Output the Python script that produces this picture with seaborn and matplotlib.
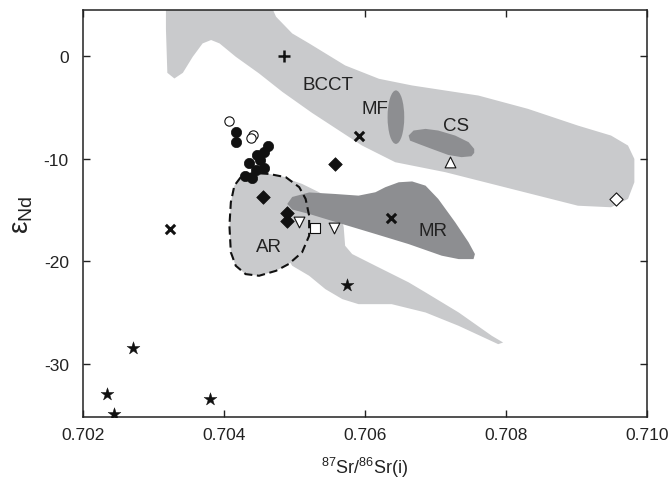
import numpy as np
import pandas as pd
import seaborn as sns
import matplotlib.pyplot as plt
import matplotlib.patches as patches

sns.set_style("ticks")
plt.rcParams['font.family'] = ['Liberation Sans', 'DejaVu Sans']
plt.rcParams['mathtext.fontset'] = 'custom'
plt.rcParams['mathtext.rm'] = 'Liberation Sans'
plt.rcParams['mathtext.it'] = 'Liberation Sans:italic'
plt.rcParams['axes.unicode_minus'] = False

LIGHT = '#c9cacc'
DARK = '#8d8e91'

# --- field outlines (87Sr/86Sr, eNd) ---
bcct_sr = [0.70318, 0.70460, 0.70474, 0.70497, 0.70521, 0.70572, 0.70620, 0.70667,
           0.70761, 0.70831, 0.70902, 0.70949, 0.70973, 0.70982, 0.70982, 0.70973,
           0.70949, 0.70902, 0.70808, 0.70714, 0.70643, 0.70596, 0.70525, 0.70483,
           0.70450, 0.70417, 0.70394, 0.70382, 0.70370, 0.70356, 0.70342, 0.70330,
           0.70320, 0.70318]
bcct_nd = [6.0, 6.0, 3.80, 2.17, 1.20, -0.94, -2.24, -2.89,
           -3.87, -5.16, -6.79, -7.76, -8.73, -10.03, -12.30, -13.92,
           -14.73, -14.58, -12.95, -11.32, -10.35, -8.73, -5.55, -3.51,
           -1.72, -0.10, 1.20, 1.53, 1.20, -0.10, -1.66, -2.21,
           -1.66, 2.6]

branch_sr = [0.70460, 0.70488, 0.70511, 0.70535, 0.70563, 0.70570, 0.70572, 0.70582,
             0.70615, 0.70662, 0.70686, 0.70733, 0.70780, 0.70796, 0.70789, 0.70733,
             0.70686, 0.70638, 0.70591, 0.70568, 0.70544, 0.70521, 0.70497, 0.70464]
branch_nd = [-11.49, -11.91, -12.46, -13.27, -14.41, -16.68, -18.47, -19.28,
             -20.42, -22.03, -23.01, -24.96, -27.23, -27.88, -28.04, -26.26,
             -24.96, -24.15, -24.15, -23.66, -22.69, -21.39, -20.42, -16.85]

ar_sr = [0.70424, 0.70415, 0.70410, 0.70408, 0.70410, 0.70417, 0.70431, 0.70450,
         0.70474, 0.70492, 0.70511, 0.70521, 0.70521, 0.70516, 0.70507, 0.70488,
         0.70464, 0.70441]
ar_nd = [-11.81, -12.63, -14.25, -16.52, -19.11, -20.42, -21.23, -21.39,
         -20.91, -20.25, -19.11, -17.50, -15.55, -13.92, -12.78, -11.81,
         -11.49, -11.39]

mr_sr = [0.70490, 0.70497, 0.70521, 0.70558, 0.70591, 0.70615, 0.70629, 0.70648,
         0.70667, 0.70686, 0.70704, 0.70728, 0.70747, 0.70756, 0.70754, 0.70733,
         0.70709, 0.70662, 0.70615, 0.70568, 0.70521, 0.70497]
mr_nd = [-14.41, -13.73, -13.29, -13.44, -13.60, -13.27, -12.78, -12.30,
         -12.22, -12.63, -13.92, -16.19, -18.14, -19.28, -19.77, -19.77,
         -19.44, -18.31, -17.33, -16.36, -15.38, -14.95]

cs_sr = [0.70662, 0.70669, 0.70686, 0.70704, 0.70728, 0.70747, 0.70755, 0.70755,
         0.70751, 0.70737, 0.70718, 0.70695, 0.70676, 0.70664]
cs_nd = [-7.76, -7.27, -7.11, -7.27, -7.76, -8.40, -9.06, -9.44,
         -9.77, -9.86, -9.64, -9.06, -8.57, -8.25]

mf_center = (0.70644, -5.97)
mf_size = (0.000236, 5.2)

# --- samples ---
circ_sr = [0.70417, 0.70418, 0.70462, 0.70457, 0.70447, 0.70451, 0.70436, 0.70457,
           0.70446, 0.70430, 0.70440]
circ_nd = [-7.43, -8.34, -8.81, -9.38, -9.69, -10.10, -10.42, -10.91,
           -11.12, -11.70, -11.93]
ocirc_sr = [0.70407, 0.70441, 0.70438]
ocirc_nd = [-6.30, -7.66, -7.98]
dia_sr = [0.70558, 0.70455, 0.70490, 0.70490]
dia_nd = [-10.52, -13.76, -15.29, -16.04]
odia_sr = [0.70956]
odia_nd = [-13.95]
tri_sr = [0.70721]
tri_nd = [-10.29]
dtri_sr = [0.70507, 0.70556]
dtri_nd = [-16.19, -16.78]
sq_sr = [0.70530]
sq_nd = [-16.75]
cross_sr = [0.70591, 0.70324, 0.70637]
cross_nd = [-7.82, -16.85, -15.77]
plus_sr = [0.70485]
plus_nd = [0.0]
star_sr = [0.70574, 0.70272, 0.70234, 0.70244, 0.70380]
star_nd = [-22.30, -28.37, -32.91, -34.86, -33.33]

labels = ['BCCT', 'MF', 'CS', 'MR', 'AR']
label_sr = [0.70548, 0.70614, 0.70729, 0.70696, 0.70464]
label_nd = [-2.8, -5.1, -6.8, -17.0, -18.5]

fig = plt.figure(figsize=(6.69, 4.89), dpi=100)
ax = fig.add_axes([0.1236, 0.1446, 0.8436, 0.8319])

ax.fill(bcct_sr, bcct_nd, color=LIGHT, lw=0, zorder=1)
ax.fill(branch_sr, branch_nd, color=LIGHT, lw=0, zorder=1)
ax.fill(ar_sr, ar_nd, color=LIGHT, lw=0, zorder=1)
ax.fill(mr_sr, mr_nd, color=DARK, lw=0, zorder=2)
ax.fill(cs_sr, cs_nd, color=DARK, lw=0, zorder=2)
ax.add_patch(patches.Ellipse(mf_center, mf_size[0], mf_size[1], color=DARK, lw=0, zorder=2))
ax.fill(ar_sr, ar_nd, facecolor='none', edgecolor='#111111', lw=1.5,
        linestyle=(0, (4, 2.2)), zorder=3)

for t, x, y in zip(labels, label_sr, label_nd):
    ax.text(x, y, t, fontsize=13.5, color='#222222', ha='center', va='center', zorder=4)


def pts(sr, nd, **kw):
    sns.scatterplot(x=sr, y=nd, ax=ax, zorder=5, legend=False, **kw)


pts(circ_sr, circ_nd, marker='o', s=55, color='#111111', edgecolor='#111111', linewidth=0.5)
pts(ocirc_sr, ocirc_nd, marker='o', s=45, facecolor='white', edgecolor='#111111', linewidth=0.8)
pts(dia_sr, dia_nd, marker='D', s=48, color='#111111', edgecolor='#111111', linewidth=0.5)
pts(odia_sr, odia_nd, marker='D', s=45, facecolor='white', edgecolor='#111111', linewidth=0.8)
pts(tri_sr, tri_nd, marker='^', s=60, facecolor='white', edgecolor='#111111', linewidth=0.8)
pts(dtri_sr, dtri_nd, marker='v', s=60, facecolor='white', edgecolor='#111111', linewidth=0.8)
pts(sq_sr, sq_nd, marker='s', s=48, facecolor='white', edgecolor='#111111', linewidth=0.8)
pts(cross_sr, cross_nd, marker='x', s=45, color='#111111', linewidth=2.2)
pts(plus_sr, plus_nd, marker='+', s=70, color='#111111', linewidth=1.8)
pts(star_sr, star_nd, marker='*', s=95, color='#111111', edgecolor='#111111', linewidth=0.3)

ax.set_xlim(0.702, 0.710)
ax.set_ylim(-35.15, 4.4)
ax.set_xticks([0.702, 0.704, 0.706, 0.708, 0.710])
ax.set_xticklabels(['0.702', '0.704', '0.706', '0.708', '0.710'])
ax.set_yticks([0, -10, -20, -30])
ax.set_yticklabels(['0', '-10', '-20', '-30'])
ax.tick_params(direction='in', length=5, width=1, top=True, right=True,
               labelsize=12.5, colors='#222222')
ax.tick_params(axis='y', pad=10)
ax.tick_params(axis='x', pad=7)
for sp in ax.spines.values():
    sp.set_linewidth(1.1)
    sp.set_color('#222222')

ax.set_xlabel(r'$^{87}$Sr/$^{86}$Sr(i)', fontsize=13, color='#222222', labelpad=9)
ax.set_ylabel(r'$\mathregular{ε_{Nd}}$', fontsize=20, color='#222222', labelpad=6)

fig.savefig('out.png', dpi=100)
